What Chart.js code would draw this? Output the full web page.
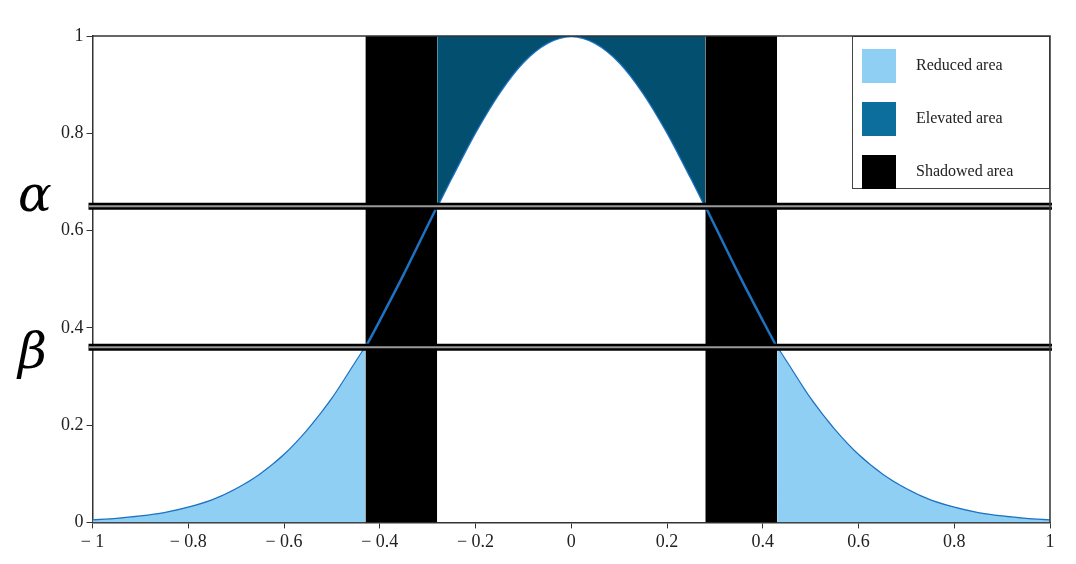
<!DOCTYPE html>
<html><head><meta charset="utf-8">
<script src="https://cdn.jsdelivr.net/npm/chart.js@4"></script>
<style>html,body{margin:0;padding:0;background:#fff}#w{width:1076px;height:564px}</style>
</head><body><div id="w"><canvas id="c"></canvas></div>
<script>
const xs = [-1,-0.95,-0.9,-0.85,-0.8,-0.75,-0.7,-0.65,-0.6,-0.55,-0.5,-0.45,-0.43,-0.4,-0.35,-0.3,-0.28,-0.25,-0.2,-0.15,-0.1,-0.05,0,0.05,0.1,0.15,0.2,0.25,0.28,0.3,0.35,0.4,0.43,0.45,0.5,0.55,0.6,0.65,0.7,0.75,0.8,0.85,0.9,0.95,1];
const ys = [0.004,0.007,0.012,0.019,0.030,0.045,0.068,0.098,0.138,0.190,0.253,0.329,0.36,0.415,0.510,0.610,0.65,0.709,0.803,0.884,0.947,0.986,1,0.986,0.947,0.884,0.803,0.709,0.65,0.610,0.510,0.415,0.36,0.329,0.253,0.190,0.138,0.098,0.068,0.045,0.030,0.019,0.012,0.007,0.004];
const xTicks = [-1,-0.8,-0.6,-0.4,-0.2,0,0.2,0.4,0.6,0.8,1];
const yTicks = [0,0.2,0.4,0.6,0.8,1];
const alphaLevel = 0.65, betaLevel = 0.36;
const innerX = 0.28, outerX = 0.43;
const legendItems = ["Reduced area","Elevated area","Shadowed area"];
const legendColors = ["#8fcff3","#0b6e9c","#000000"];

const pts = xs.map((x,i)=>({x, y:ys[i]}));
const sel = f => pts.filter(p=>f(p.x));
const fmt = v => v===0?'0':(v<0?'\u2212 ':'')+String(Math.abs(v)).replace(/^0(?=\.)/,'0');

const overlay = {
  id:'overlay',
  afterDatasetsDraw(ch){
    const {ctx, scales:{x,y}, chartArea:a} = ch;
    ctx.save();
    [alphaLevel,betaLevel].forEach(v=>{
      const py = y.getPixelForValue(v);
      ctx.strokeStyle='#000'; ctx.lineWidth=7;
      ctx.beginPath(); ctx.moveTo(a.left-4,py); ctx.lineTo(a.right+2,py); ctx.stroke();
      ctx.strokeStyle='#9a9a9a'; ctx.lineWidth=2;
      ctx.beginPath(); ctx.moveTo(a.left-4,py); ctx.lineTo(a.right+2,py); ctx.stroke();
    });
    ctx.fillStyle='#000'; ctx.font='italic 50px "DejaVu Serif", serif'; ctx.textBaseline='middle';
    ctx.fillText('\u03b1', 18, y.getPixelForValue(alphaLevel)-8);
    ctx.fillText('\u03b2', 18, y.getPixelForValue(betaLevel)+8);
    // legend
    const lx=852, ly=a.top;
    ctx.fillStyle='#fff'; ctx.fillRect(lx,ly,a.right-lx,152);
    ctx.strokeStyle='#444'; ctx.lineWidth=1; ctx.strokeRect(lx+0.5,ly+0.5,a.right-lx-1,152);
    ctx.font='16px "Liberation Serif", serif';
    legendItems.forEach((t,i)=>{
      const cy = ly+30+i*53;
      ctx.fillStyle=legendColors[i]; ctx.fillRect(lx+10,cy-17,34,34);
      ctx.fillStyle='#222'; ctx.fillText(t,lx+64,cy);
    });
    ctx.restore();
  }
};

new Chart(document.getElementById('c'),{
  type:'line',
  data:{datasets:[
    {data:sel(x=>x<=-outerX), fill:'origin', backgroundColor:'#8fcff3', borderWidth:0, pointRadius:0, tension:0.3},
    {data:sel(x=>x>=outerX), fill:'origin', backgroundColor:'#8fcff3', borderWidth:0, pointRadius:0, tension:0.3},
    {data:sel(x=>x>=-innerX&&x<=innerX), fill:'end', backgroundColor:'#034f70', borderWidth:0, pointRadius:0, tension:0.3},
    {data:pts, fill:false, borderColor:'#1d72c2', borderWidth:2.5, pointRadius:0, tension:0.3},
    {data:[{x:-outerX,y:1.005},{x:-innerX,y:1.005}], fill:'origin', backgroundColor:'#000', borderWidth:0, pointRadius:0},
    {data:[{x:innerX,y:1.005},{x:outerX,y:1.005}], fill:'origin', backgroundColor:'#000', borderWidth:0, pointRadius:0}
  ]},
  options:{
    responsive:true, maintainAspectRatio:false, animation:false,
    layout:{padding:{left:58,right:26,top:36,bottom:8}},
    plugins:{legend:{display:false},tooltip:{enabled:false}},
    scales:{
      x:{type:'linear',min:-1,max:1,
        afterBuildTicks:s=>{s.ticks=xTicks.map(v=>({value:v}));},
        ticks:{callback:v=>fmt(v),color:'#222',font:{family:'"Liberation Serif", serif',size:18},maxRotation:0},
        grid:{drawOnChartArea:false,tickLength:6,color:'#333'},border:{color:'#333',width:1.5}},
      y:{min:0,max:1,
        afterBuildTicks:s=>{s.ticks=yTicks.map(v=>({value:v}));},
        ticks:{callback:v=>fmt(v),color:'#222',font:{family:'"Liberation Serif", serif',size:18}},
        grid:{drawOnChartArea:false,tickLength:6,color:'#333'},border:{color:'#333',width:1.5}}
    }
  },
  plugins:[overlay,{id:'frame',afterDraw(ch){const {ctx,chartArea:a}=ch;ctx.save();ctx.strokeStyle='#333';ctx.lineWidth=1.5;ctx.beginPath();ctx.moveTo(a.left,a.top);ctx.lineTo(a.right,a.top);ctx.lineTo(a.right,a.bottom);ctx.stroke();ctx.restore();}}]
});
</script></body></html>
